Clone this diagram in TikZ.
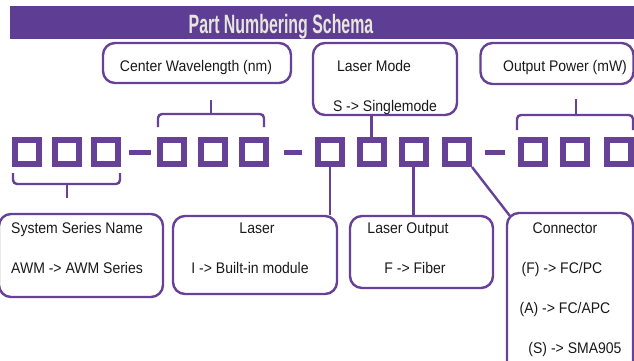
\documentclass[tikz,border=0pt]{standalone}
\usepackage{fontspec}
\setmainfont{Liberation Sans}
\definecolor{pline}{RGB}{103,65,152}
\definecolor{pbar}{RGB}{94,62,148}
\definecolor{ptitle}{RGB}{232,230,220}
\definecolor{ptext}{RGB}{25,25,25}
\newcommand\narrowtxt[1]{\scalebox{0.91}[1]{#1}}
\begin{document}
\begin{tikzpicture}[x=1pt,y=-1pt,
  sq/.style={draw=pline,line width=6pt,minimum size=24pt,inner sep=0pt,outer sep=3pt},
  box/.style={draw=pline,line width=2.4pt,rounded corners=12pt,inner sep=0pt},
  lab/.style={anchor=base,text=ptext,font=\fontsize{15.4}{17}\selectfont,inner sep=0pt},
  conn/.style={draw=pline,line width=2.4pt},
  brc/.style={draw=pline,line width=2.4pt,rounded corners=4pt},
  dashline/.style={draw=pline,line width=5pt}]
\useasboundingbox (0,0) rectangle (634,360);
\clip (0,0) rectangle (634,360);
% title bar
\fill[pbar] (10,6) rectangle (640,39);
\node[anchor=base,inner sep=0pt,text=ptitle] (title) at (281,33)
  {\scalebox{0.6}[1]{\fontsize{26.5}{28}\selectfont\bfseries Part Numbering Schema}};
% squares
\foreach \n/\x in {1/27,2/67,3/106,4/172,5/213,6/253.5,7/330,8/371.5,9/413.5,10/457,11/532.5,12/574.5,13/619}
  \node[sq] (s\n) at (\x,152) {};
% dashes
\draw[dashline] ([xshift=8pt]s3.east) -- ([xshift=-6pt]s4.west);
\draw[dashline] ([xshift=15pt]s6.east) -- ([xshift=-13pt]s7.west);
\draw[dashline] ([xshift=13pt]s10.east) -- ([xshift=-13pt]s11.west);
% boxes
\node[box,minimum width=188pt,minimum height=40pt] (cw) at (197,63) {};
\node[box,minimum width=144pt,minimum height=72pt] (lm) at (385,79) {};
\node[box,minimum width=153pt,minimum height=41pt] (op) at (557,63.5) {};
\node[box,minimum width=164pt,minimum height=83pt] (ss) at (81,255.5) {};
\node[box,minimum width=164pt,minimum height=78pt] (la) at (255,255) {};
\node[box,minimum width=143pt,minimum height=72pt] (lo) at (421.5,252) {};
\node[box,minimum width=126pt,minimum height=170pt] (co) at (570,298) {};
% texts
\node[lab] (t1) at (196,71) {\narrowtxt{Center Wavelength (nm)}};
\node[lab] (t2) at (374,71) {\narrowtxt{Laser Mode}};
\node[lab] (t3) at (385,111) {\narrowtxt{S -> Singlemode}};
\node[lab] (t4) at (565,71) {\narrowtxt{Output Power (mW)}};
\node[lab,anchor=base west] (t5) at (11,233) {\narrowtxt{System Series Name}};
\node[lab,anchor=base west] (t6) at (11,273) {\narrowtxt{AWM -> AWM Series}};
\node[lab] (t7) at (257,233) {\narrowtxt{Laser}};
\node[lab] (t8) at (250,273) {\narrowtxt{I -> Built-in module}};
\node[lab] (t9) at (408,233) {\narrowtxt{Laser Output}};
\node[lab] (t10) at (415,273) {\narrowtxt{F -> Fiber}};
\node[lab] (t11) at (565,233) {\narrowtxt{Connector}};
\node[lab] (t12) at (562,273) {\narrowtxt{(F) -> FC/PC}};
\node[lab] (t13) at (565,313) {\narrowtxt{(A) -> FC/APC}};
\node[lab] (t14) at (575,353) {\narrowtxt{(S) -> SMA905}};
% braces
\draw[brc] (158,127) -- (158,114) -- (264,114) -- (264,127);
\draw[conn] (211,114) -- (211,100);
\draw[brc] (517,130) -- (517,115) -- (633,115) -- (633,130);
\draw[conn] (576,115) -- (576,99);
\draw[brc] (13,173) -- (13,184) -- (120,184) -- (120,173);
\draw[conn] (67,184) -- (67,198);
% connectors
\draw[conn] (s7.south) -- (s7.south |- la.north);
\draw[conn] (s8.north) -- (s8.north |- lm.south);
\draw[conn] (s9.south) -- (s9.south |- lo.north);
\draw[conn] (s10.south east) -- ([xshift=4pt,yshift=-4pt]co.north west);
\end{tikzpicture}
\end{document}
